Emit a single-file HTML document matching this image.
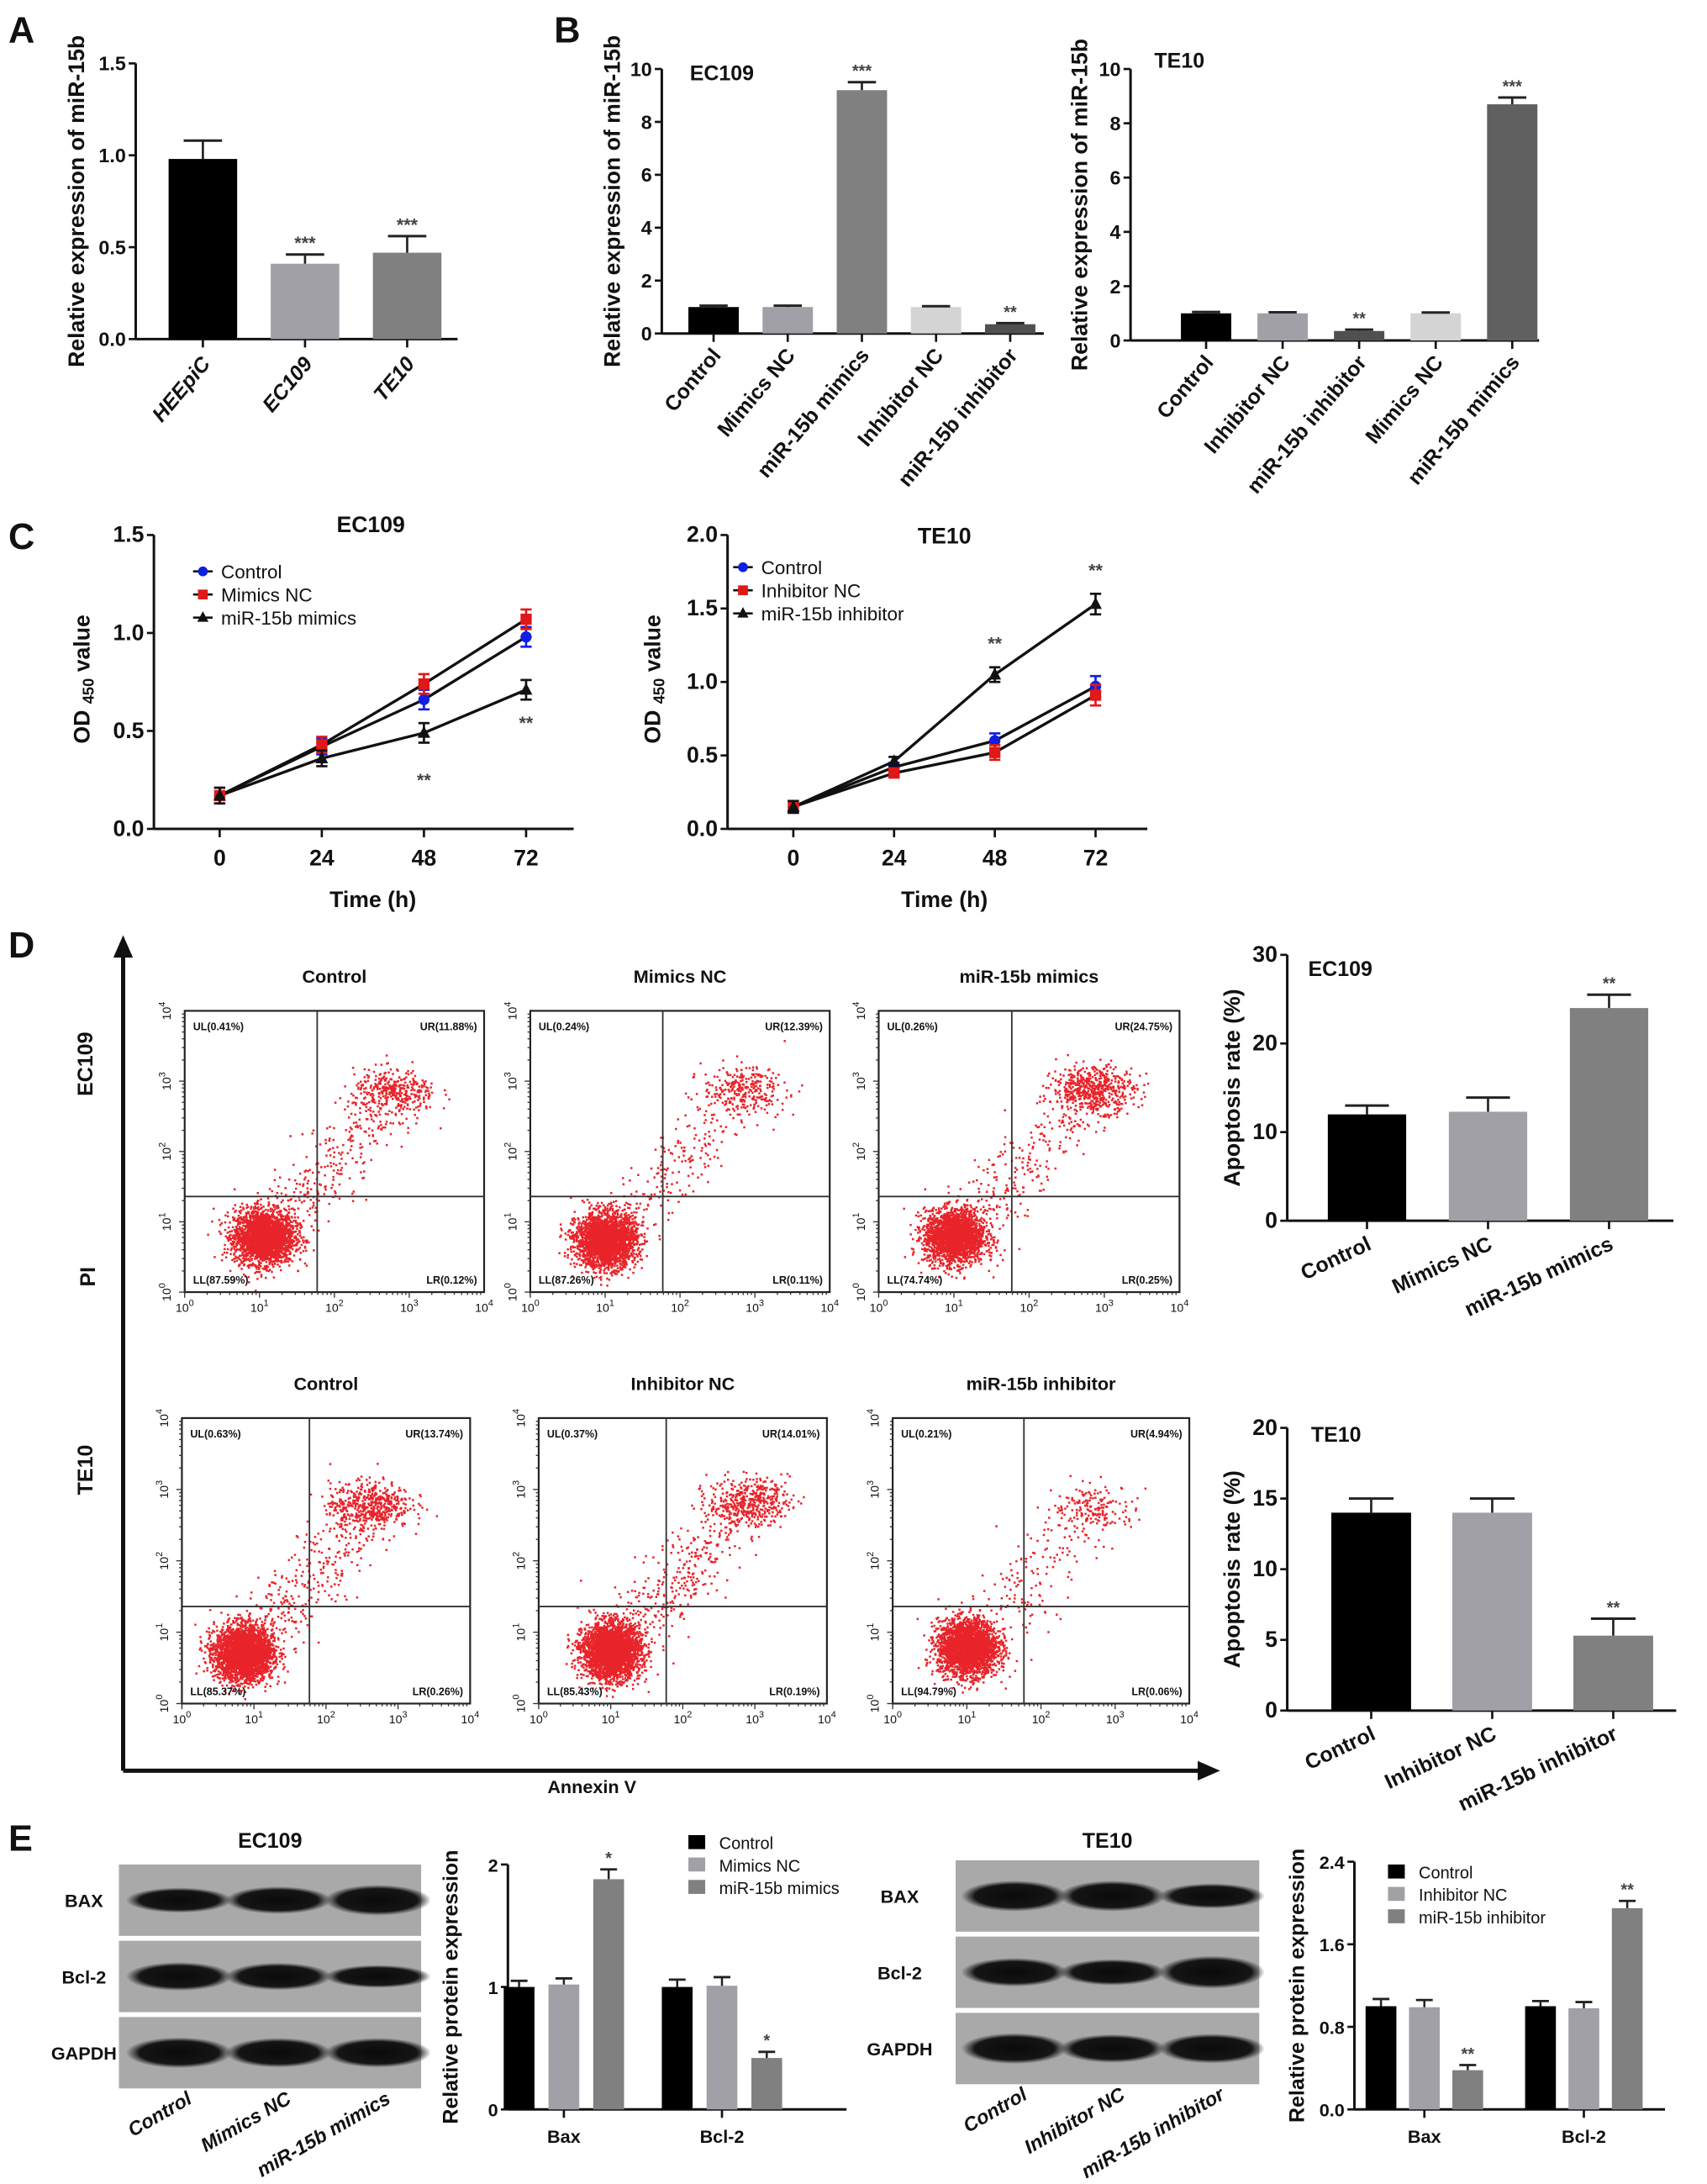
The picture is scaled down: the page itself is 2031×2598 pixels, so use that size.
<!DOCTYPE html>
<html><head><meta charset="utf-8"><style>
html,body{margin:0;padding:0;background:#fff}
svg{display:block}
text{font-family:"Liberation Sans",Arial,sans-serif;font-weight:bold;fill:#111}
text.nw{font-weight:normal}
</style></head><body>
<svg id="fig" xmlns="http://www.w3.org/2000/svg" width="2031" height="2598" viewBox="0 0 1220 1560"></svg>
<script>
// ---------- DATA ----------
const aCats=["HEEpiC","EC109","TE10"];
const aVals=[0.98,0.41,0.47];
const aErrs=[0.10,0.05,0.09];
const aStars=["","***","***"];
const aTicks=[0,0.5,1.0,1.5];

const bEcCats=["Control","Mimics NC","miR-15b mimics","Inhibitor NC","miR-15b inhibitor"];
const bEcVals=[1.0,1.0,9.2,1.0,0.35];
const bEcErrs=[0.05,0.05,0.3,0.03,0.04];
const bEcStars=["","","***","","**"];
const bTeCats=["Control","Inhibitor NC","miR-15b inhibitor","Mimics NC","miR-15b mimics"];
const bTeVals=[1.0,1.0,0.35,1.0,8.7];
const bTeErrs=[0.05,0.04,0.05,0.03,0.25];
const bTeStars=["","","**","","***"];
const bTicks=[0,2,4,6,8,10];

const cTimes=[0,24,48,72];
const cEcSeries=["Control","Mimics NC","miR-15b mimics"];
const cEcControl=[0.17,0.42,0.66,0.98];
const cEcMimNC=[0.17,0.43,0.74,1.07];
const cEcMim=[0.17,0.36,0.49,0.71];
const cEcErr=[0.04,0.04,0.05,0.05];
const cTeSeries=["Control","Inhibitor NC","miR-15b inhibitor"];
const cTeControl=[0.15,0.42,0.60,0.97];
const cTeInhNC=[0.15,0.38,0.52,0.91];
const cTeInh=[0.15,0.46,1.05,1.53];
const cTeErr=[0.04,0.03,0.05,0.07];
const cEcTicks=[0,0.5,1.0,1.5];
const cTeTicks=[0,0.5,1.0,1.5,2.0];

const dEcCats=["Control","Mimics NC","miR-15b mimics"];
const dEcVals=[12.0,12.3,24.0];
const dEcErrs=[1.0,1.6,1.5];
const dTeCats=["Control","Inhibitor NC","miR-15b inhibitor"];
const dTeVals=[14.0,14.0,5.3];
const dTeErrs=[1.0,1.0,1.2];
const dEcTicks=[0,10,20,30];
const dTeTicks=[0,5,10,15,20];
const flowTitles=["Control","Mimics NC","miR-15b mimics","Control","Inhibitor NC","miR-15b inhibitor"];
const flowUL=["0.41","0.24","0.26","0.63","0.37","0.21"];
const flowUR=["11.88","12.39","24.75","13.74","14.01","4.94"];
const flowLL=["87.59","87.26","74.74","85.37","85.43","94.79"];
const flowLR=["0.12","0.11","0.25","0.26","0.19","0.06"];
// cluster summaries (log10 units): [LLx,LLy,URx,URy,nLL,nUR,nBridge]
const flowClusters=[[1.05,0.8,2.8,2.85,2600,320,300],[1.0,0.75,2.85,2.9,2600,260,220],[1.0,0.8,2.85,2.9,2300,520,260],
                    [0.85,0.72,2.6,2.8,3000,480,320],[1.0,0.75,2.9,2.85,3000,420,340],[1.0,0.8,2.7,2.75,2800,150,170]];

const eGroups=["Bax","Bcl-2"];
const eEcSeries=["Control","Mimics NC","miR-15b mimics"];
const eEcCtrl=[1.0,1.0];const eEcNC=[1.02,1.01];const eEcTrt=[1.88,0.42];
const eEcErr=[[0.05,0.06],[0.05,0.07],[0.08,0.05]];
const eEcStars=["*","*"];
const eTeSeries=["Control","Inhibitor NC","miR-15b inhibitor"];
const eTeCtrl=[1.0,1.0];const eTeNC=[0.99,0.98];const eTeTrt=[0.38,1.95];
const eTeErr=[[0.07,0.05],[0.07,0.06],[0.05,0.07]];
const eTeStars=["**","**"];
const eEcTicks=[0,1,2];
const eTeTicks=[0,0.8,1.6,2.4];

// ---------- HELPERS ----------
const NS="http://www.w3.org/2000/svg";
const svg=document.getElementById('fig');
function mk(tag,attrs,parent){const e=document.createElementNS(NS,tag);for(const k in attrs)e.setAttribute(k,attrs[k]);(parent||svg).appendChild(e);return e;}
function txt(s,x,y,size,opts,parent){opts=opts||{};const t=mk('text',{x:x,y:y,'font-size':size,'text-anchor':opts.anchor||'middle'},parent);
 if(opts.rot!==undefined)t.setAttribute('transform','rotate('+opts.rot+' '+x+' '+y+')');
 if(opts.italic)t.setAttribute('font-style','italic');
 if(opts.fill)t.setAttribute('style','fill:'+opts.fill);
 if(opts.weight==='normal')t.setAttribute('class','nw');
 t.textContent=s;return t;}
function line(x1,y1,x2,y2,w,parent,col){return mk('line',{x1:x1,y1:y1,x2:x2,y2:y2,stroke:col||'#111','stroke-width':w||1.6},parent);}
function fmt(v,d){return d?v.toFixed(d):String(v);}

function yAxis(g,ax,y0,yTop,ymax,ticks,dec,fs){
 const sy=v=>y0-(v/ymax)*(y0-yTop);
 line(ax,y0,ax,yTop,1.8,g);
 ticks.forEach(v=>{line(ax-5,sy(v),ax,sy(v),1.6,g);const t=txt(fmt(v,dec),ax-7,sy(v)+5,fs||14,{anchor:'end'},g);
  });
 return sy;}

function barChart(o){
 const g=mk('g',{});
 const sy=yAxis(g,o.ax,o.y0,o.yTop,o.ymax,o.ticks,o.dec,o.fs);
 line(o.ax,o.y0,o.xEnd,o.y0,1.8,g);
 o.vals.forEach((v,i)=>{
  const cx=o.c0+i*o.step;
  const r=mk('rect',{x:cx-o.bw/2,y:sy(v),width:o.bw,height:o.y0-sy(v),fill:o.colors[i]},g);
  
  
  const te=sy(v+o.errs[i]);
  line(cx,sy(v),cx,te,1.6,g,'#222');line(cx-o.bw*0.28,te,cx+o.bw*0.28,te,1.8,g,'#222');
  line(cx,o.y0,cx,o.y0+6,1.6,g);
  if(o.stars[i]){const s=txt(o.stars[i],cx,te-4,o.starFs||12,{fill:'#444'},g);}
  const lx=cx+(o.lblDx||6),ly=o.y0+(o.lblDy||16);
  const l=txt(o.cats[i],lx,ly,o.lfs||15,{anchor:'end',rot:o.rot,italic:o.italic},g);
  
 });
 if(o.yTitle){const t=txt(o.yTitle,o.ytx,(o.y0+o.yTop)/2+(o.ytdy||0),o.ytfs||16,{rot:-90},g);}
 if(o.title){const t=txt(o.title,o.tx,o.ty,15,{anchor:'start'},g);}
 return g;}

function panelLabel(s,x,y){const t=txt(s,x,y,26,{anchor:'start'});}

// ---------- PANEL A ----------
panelLabel("A",6,30);
barChart({name:'panel-a-chart',ax:97,y0:242,yTop:45,ymax:1.5,ticks:aTicks,dec:1,xEnd:327,cats:aCats,vals:aVals,errs:aErrs,stars:aStars,
 colors:['#000','#a0a0a6','#808080'],c0:145,step:73,bw:49,rot:-50,italic:true,lfs:15,lblDx:6,lblDy:18,
 yTitle:'Relative expression of miR-15b',ytx:60,ytfs:16,starFs:13});

// ---------- PANEL B ----------
panelLabel("B",396,30);
barChart({name:'panel-b-ec109-chart',ax:473,y0:238,yTop:49,ymax:10,ticks:bTicks,dec:0,xEnd:746,cats:bEcCats,vals:bEcVals,errs:bEcErrs,stars:bEcStars,
 colors:['#000','#a0a0a6','#808080','#d4d4d4','#505050'],c0:510,step:53,bw:36,rot:-50,lfs:15,lblDx:6,lblDy:16,
 yTitle:'Relative expression of miR-15b',ytx:443,ytfs:16,title:'EC109',tx:493,ty:57});
barChart({name:'panel-b-te10-chart',ax:808,y0:243,yTop:49,ymax:10,ticks:bTicks,dec:0,xEnd:1100,cats:bTeCats,vals:bTeVals,errs:bTeErrs,stars:bTeStars,
 colors:['#000','#a0a0a6','#505050','#d4d4d4','#606060'],c0:862,step:54.7,bw:36,rot:-50,lfs:15,lblDx:6,lblDy:16,
 yTitle:'Relative expression of miR-15b',ytx:777,ytfs:16,title:'TE10',tx:825,ty:48});

// ---------- PANEL C ----------
panelLabel("C",6,392);
function lineChart(o){
 const g=mk('g',{});
 const sy=yAxis(g,o.ax,o.y0,o.yTop,o.ymax,o.ticks,1,16);
 line(o.ax,o.y0,o.xEnd,o.y0,1.8,g);
 const sx=t=>o.x0+(t/72)*(o.x72-o.x0);
 cTimes.forEach(t=>{line(sx(t),o.y0,sx(t),o.y0+6,1.6,g);const l=txt(String(t),sx(t),o.y0+26,16,{},g);});
 const cols=['#1020e0','#e01818','#111'];
 o.series.forEach((vals,si)=>{
  const pts=vals.map((v,i)=>sx(cTimes[i])+','+sy(v)).join(' ');
  const pl=mk('polyline',{points:pts,fill:'none',stroke:'#111','stroke-width':2},g);
  
 });
 o.series.forEach((vals,si)=>{
  vals.forEach((v,i)=>{const x=sx(cTimes[i]),y=sy(v),e=o.err[i];
   line(x,sy(v-e),x,sy(v+e),1.6,g,cols[si]);
   line(x-4,sy(v+e),x+4,sy(v+e),1.6,g,cols[si]);line(x-4,sy(v-e),x+4,sy(v-e),1.6,g,cols[si]);
   let m;
   if(si===0)m=mk('circle',{cx:x,cy:y,r:4,fill:cols[0]},g);
   else if(si===1)m=mk('rect',{x:x-4,y:y-4,width:8,height:8,fill:cols[1]},g);
   else m=mk('polygon',{points:(x)+','+(y-5)+' '+(x-4.5)+','+(y+3.5)+' '+(x+4.5)+','+(y+3.5),fill:'#111'},g);
   
  });});
 o.stars.forEach(s=>{const t=txt('**',sx(s[0]),sy(s[1])+s[2],13,{fill:'#444'},g);});
 o.names.forEach((n,i)=>{const ly=o.ly+i*16.5;const lg=mk('g',{},g);
  line(o.lx,ly,o.lx+14,ly,1.6,lg);
  if(i===0)mk('circle',{cx:o.lx+7,cy:ly,r:3.5,fill:cols[0]},lg);else if(i===1)mk('rect',{x:o.lx+3.5,y:ly-3.5,width:7,height:7,fill:cols[1]},lg);
  else mk('polygon',{points:(o.lx+7)+','+(ly-4.5)+' '+(o.lx+3)+','+(ly+3)+' '+(o.lx+11)+','+(ly+3),fill:'#111'},lg);
  txt(n,o.lx+20,ly+5,13.5,{anchor:'start',weight:'normal'},lg);});
 const t1=txt(o.title,(o.ax+o.xEnd)/2+5,o.ty,16,{},g);
 const xt=txt('Time (h)',(o.x0+o.x72)/2,648,16,{},g);
 const yt=mk('text',{x:o.ytx,y:485,'font-size':16,'text-anchor':'middle',transform:'rotate(-90 '+o.ytx+' 485)'},g);
 
 yt.innerHTML='OD <tspan font-size="11" dy="3">450</tspan><tspan dy="-3"> value</tspan>';
}
lineChart({name:'panel-c-ec109-chart',ax:110,y0:592,yTop:382,ymax:1.5,ticks:cEcTicks,xEnd:410,x0:157,x72:376,
 series:[cEcControl,cEcMimNC,cEcMim],names:cEcSeries,err:cEcErr,stars:[[48,0.49,38],[72,0.71,28]],lx:138,ly:408,title:'EC109',ty:380,ytx:64});
lineChart({name:'panel-c-te10-chart',ax:520,y0:592,yTop:382,ymax:2.0,ticks:cTeTicks,xEnd:820,x0:567,x72:783,
 series:[cTeControl,cTeInhNC,cTeInh],names:cTeSeries,err:cTeErr,stars:[[48,1.05,-18],[72,1.53,-20]],lx:524,ly:405,title:'TE10',ty:388,ytx:472});

// ---------- PANEL D ----------
panelLabel("D",6,684);
(function(){
 const g=mk('g',{});
 line(88,1265,88,682,3,g);mk('polygon',{points:'81,684 88,668 95,684',fill:'#111'},g);
 line(88,1265,858,1265,3,g);mk('polygon',{points:'856,1258 872,1265 856,1272',fill:'#111'},g);
 let t=txt('PI',68,912,15,{rot:-90},g);
 t=txt('EC109',66,760,15,{rot:-90},g);
 t=txt('TE10',66,1050,15,{rot:-90},g);
 t=txt('Annexin V',423,1281,13,{},g);
})();
let seed=12345;function rnd(){seed=(seed*1103515245+12345)%2147483648;return seed/2147483648;}
function gauss(){let u=rnd()||1e-9,v=rnd();return Math.sqrt(-2*Math.log(u))*Math.cos(2*Math.PI*v);}
const flowBoxes=[[132,722,346,923],[379,722,593,923],[628,722,843,923],[130,1013,336,1217],[385,1013,591,1217],[638,1013,850,1217]];
flowBoxes.forEach((b,k)=>{
 const [x1,y1,x2,y2]=b;const W=x2-x1,H=y2-y1;
 const g=mk('g',{});
 const t=txt(flowTitles[k],(x1+x2)/2,y1-20,13,{},g);
 const px=v=>x1+(v/4)*W,py=v=>y2-(v/4)*H;
 const c=flowClusters[k];let d='';
 function dot(x,y){if(x<0.02||x>3.98||y<0.02||y>3.98)return;d+='M'+px(x).toFixed(1)+' '+py(y).toFixed(1)+'h1.5v1.5h-1.5z';}
 for(let i=0;i<c[4];i++){dot(c[0]+gauss()*0.2,c[1]+gauss()*0.19);}
 for(let i=0;i<c[5];i++){dot(c[2]+gauss()*0.28,c[3]+gauss()*0.16);}
 for(let i=0;i<c[6];i++){const f=rnd();dot(c[0]+0.3+(c[2]-c[0]-0.3)*f+gauss()*0.25,c[1]+0.3+(c[3]-c[1]-0.3)*f+gauss()*0.2);}
 const p=mk('path',{d:d,fill:'#e8242a'},g);
 mk('rect',{x:x1,y:y1,width:W,height:H,fill:'none',stroke:'#222','stroke-width':1.3},g);
 const qx=px(1.77),qy=py(1.36);
 line(qx,y1,qx,y2,1.1,g,'#333');line(x1,qy,x2,qy,1.1,g,'#333');
 for(let e=0;e<=4;e++){
  for(let m=1;m<10&&e<4;m++){const lv=e+Math.log10(m);line(px(lv),y2,px(lv),y2+(m===1?4:2),0.8,g,'#333');line(x1,py(lv),x1-(m===1?4:2),py(lv),0.8,g,'#333');}
  const tx=mk('text',{x:px(e),y:y2+14,'font-size':8.5,'text-anchor':'middle','class':'nw'},g);tx.innerHTML='10<tspan dy="-4" font-size="6.5">'+e+'</tspan>';
  
  const ty=mk('text',{x:x1-10,y:py(e),'font-size':8.5,'text-anchor':'middle','class':'nw',transform:'rotate(-90 '+(x1-10)+' '+py(e)+')'},g);ty.innerHTML='10<tspan dy="-4" font-size="6.5">'+e+'</tspan>';
  
 }
 const q=[['UL('+flowUL[k]+'%)',x1+6,y1+14,'start'],['UR('+flowUR[k]+'%)',x2-5,y1+14,'end'],['LL('+flowLL[k]+'%)',x1+6,y2-6,'start'],['LR('+flowLR[k]+'%)',x2-5,y2-6,'end']];
 q.forEach(a=>{const tt=txt(a[0],a[1],a[2],7.5,{anchor:a[3]},g);});
});
barChart({name:'panel-d-ec109-bar-chart',ax:920,y0:872,yTop:682,ymax:30,ticks:dEcTicks,dec:0,xEnd:1196,cats:dEcCats,vals:dEcVals,errs:dEcErrs,stars:["","","**"],
 colors:['#000','#a0a0a6','#808080'],c0:977,step:86.5,bw:56,rot:-25,lfs:15,lblDx:4,lblDy:20,fs:16,
 yTitle:'Apoptosis rate (%)',ytx:886,ytfs:16,title:'EC109',tx:935,ty:697});
barChart({name:'panel-d-te10-bar-chart',ax:920,y0:1222,yTop:1020,ymax:20,ticks:dTeTicks,dec:0,xEnd:1198,cats:dTeCats,vals:dTeVals,errs:dTeErrs,stars:["","","**"],
 colors:['#000','#a0a0a6','#808080'],c0:980,step:86.5,bw:57,rot:-25,lfs:15,lblDx:4,lblDy:20,fs:16,
 yTitle:'Apoptosis rate (%)',ytx:886,ytfs:16,title:'TE10',tx:937,ty:1030});

// ---------- PANEL E ----------
panelLabel("E",6,1322);
const blotEcBands=[[0.75,0.85,1.0],[0.9,0.85,0.65],[1.0,0.95,0.95]];
const blotTeBands=[[1.0,1.0,0.75],[0.9,0.8,1.1],[1.0,0.9,0.95]];
function blot(o){
 const g=mk('g',{});
 const t=txt(o.title,(o.x1+o.x2)/2,1320,15,{},g);
 const rows=['BAX','Bcl-2','GAPDH'];const sh=51,gap=3.5;
 const defs=mk('defs',{},g);
 const gr=mk('radialGradient',{id:o.name+'-band',cx:'50%',cy:'50%',r:'50%'},defs);
 mk('stop',{offset:'0%','stop-color':'#0a0a0a'},gr);mk('stop',{offset:'75%','stop-color':'#151515'},gr);mk('stop',{offset:'100%','stop-color':'#222','stop-opacity':0}, gr);
 rows.forEach((r,ri)=>{const y=o.y+ri*(sh+gap);
  mk('rect',{x:o.x1,y:y,width:o.x2-o.x1,height:sh,fill:'#a9a9a9'},g);
  const l=txt(r,o.lx,y+sh/2+5,13,{},g);
  o.bands[ri].forEach((s,li)=>{const cx=o.lanes[li];
   const e=mk('ellipse',{cx:cx,cy:y+sh/2,rx:38,ry:8*s+3,fill:'url(#'+o.name+'-band)'},g);
   });
 });
 o.labels.forEach((s,i)=>{const l=txt(s,o.lanes[i]+10,o.y+3*sh+2*gap+10,14,{anchor:'end',rot:-30,italic:true},g);});
}
blot({name:'blot-ec109',title:'EC109',x1:85,x2:301,y:1332,lx:60,lanes:[128,199,270],bands:blotEcBands,labels:eEcSeries});
blot({name:'blot-te10',title:'TE10',x1:683,x2:900,y:1329,lx:643,lanes:[725,795,866],bands:blotTeBands,labels:eTeSeries});

function groupedBar(o){
 const g=mk('g',{});
 const sy=yAxis(g,o.ax,o.y0,o.yTop,o.ymax,o.ticks,o.dec,13);
 line(o.ax,o.y0,o.xEnd,o.y0,1.8,g);
 const cols=['#000','#a0a0a6','#808080'];
 o.groups.forEach((gn,gi)=>{
  const gc=o.g0+gi*o.gstep;
  line(gc,o.y0,gc,o.y0+6,1.6,g);
  const l=txt(gn,gc,o.y0+24,13,{},g);
  o.series.forEach((sv,si)=>{const v=sv[gi],cx=gc+(si-1)*o.sstep;
   const r=mk('rect',{x:cx-o.bw/2,y:sy(v),width:o.bw,height:o.y0-sy(v),fill:cols[si]},g);
   
   
   const te=sy(v+o.err[si][gi]);line(cx,sy(v),cx,te,1.5,g,'#222');line(cx-6,te,cx+6,te,1.7,g,'#222');
   if(si===2){const s=txt(o.stars[gi],cx,te-4,12,{fill:'#444'},g);}
  });
 });
 o.names.forEach((n,i)=>{const lg=mk('g',{},g);
  mk('rect',{x:o.lx,y:o.ly+i*16-5,width:12,height:10,fill:cols[i]},lg);txt(n,o.lx+22,o.ly+i*16+5,12,{anchor:'start',weight:'normal'},lg);});
 const yt=txt('Relative protein expression',o.ytx,(o.y0+o.yTop)/2,15,{rot:-90},g);
}
groupedBar({name:'panel-e-ec109-chart',ax:363,y0:1507,yTop:1332,ymax:2,ticks:eEcTicks,dec:0,xEnd:605,groups:eGroups,series:[eEcCtrl,eEcNC,eEcTrt],
 err:eEcErr,stars:eEcStars,names:eEcSeries,g0:403,gstep:113,sstep:32,bw:22,lx:492,ly:1316,ytx:327});
groupedBar({name:'panel-e-te10-chart',ax:968,y0:1507,yTop:1330,ymax:2.4,ticks:eTeTicks,dec:1,xEnd:1190,groups:eGroups,series:[eTeCtrl,eTeNC,eTeTrt],
 err:eTeErr,stars:eTeStars,names:eTeSeries,g0:1018,gstep:114,sstep:31,bw:22,lx:992,ly:1337,ytx:932});
</script>
</body></html>
